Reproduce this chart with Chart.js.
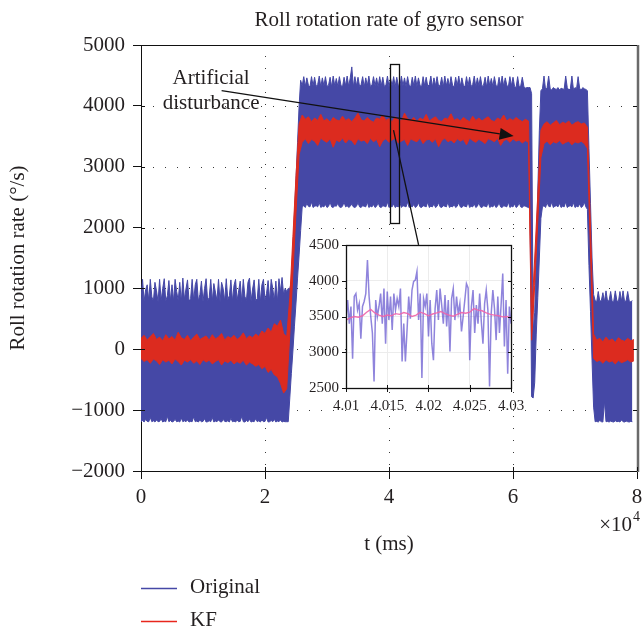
<!DOCTYPE html>
<html><head><meta charset="utf-8">
<script src="https://cdn.jsdelivr.net/npm/chart.js@4.4.1/dist/chart.umd.min.js"></script>
<style>
html,body{margin:0;padding:0;background:#fff;}
#wrap{position:relative;width:643px;height:630px;overflow:hidden;}
#main{position:absolute;left:0;top:0;}
#inset{position:absolute;left:290px;top:235px;}
</style></head><body>
<div id="wrap"><canvas id="main" width="643" height="630"></canvas><canvas id="inset" width="235" height="185"></canvas></div>
<script>
// ---------------- DATA ----------------
const ORIG_STEP = 250;   // ms between samples of the Original band edges
const KF_STEP = 500;     // ms between samples of the KF band edges

// Original (raw gyro): upper edge of the noise band
const origHigh = [
  // 0 – 23.25k ms
  820, 1150, 790, 980, 1060, 800, 1150, 860, 790, 1100,
  960, 780, 1150, 800, 1000, 1160, 790, 880, 1130, 800,
  1060, 790, 1150, 950, 800, 1100, 780, 1170, 820, 990,
  1140, 790, 830, 1150, 800, 1060, 1150, 790, 900, 1120,
  780, 1000, 1160, 800, 850, 1150, 790, 1080, 940, 800,
  1150, 780, 1100, 1000, 790, 1160, 820, 880, 1140, 790,
  1050, 1150, 800, 960, 1120, 780, 1150, 870, 800, 1100,
  1170, 790, 990, 1140, 800, 830, 1150, 780, 1060, 1150,
  800, 920, 1130, 790, 1150, 1000, 800, 1120, 780, 1160,
  950, 1180, 900, 1000,
  // ramp 23.5k – 25.25k
  950, 1000, 1000, 1100, 1650, 2250, 2800, 3400,
  // plateau 25.5k – 62.5k
  4000, 4420, 4330, 4480, 4320, 4460, 4340, 4310, 4480, 4330,
  4470, 4320, 4350, 4490, 4310, 4460, 4330, 4480, 4320, 4340,
  4470, 4310, 4490, 4330, 4450, 4320, 4480, 4340, 4310, 4470,
  4330, 4490, 4320, 4460, 4640, 4310, 4480, 4330, 4470, 4320,
  4350, 4480, 4310, 4460, 4330, 4490, 4320, 4340, 4480, 4330,
  4460, 4310, 4480, 4330, 4470, 4320, 4340, 4490, 4310, 4450,
  4330, 4480, 4320, 4470, 4340, 4310, 4490, 4330, 4460, 4320,
  4480, 4340, 4310, 4470, 4330, 4490, 4320, 4460, 4340, 4310,
  4480, 4330, 4470, 4320, 4350, 4490, 4310, 4460, 4330, 4480,
  4320, 4340, 4470, 4310, 4490, 4330, 4450, 4320, 4480, 4340,
  4310, 4470, 4330, 4490, 4320, 4460, 4340, 4310, 4480, 4330,
  4470, 4320, 4350, 4490, 4310, 4460, 4330, 4480, 4320, 4340,
  4470, 4310, 4490, 4330, 4450, 4320, 4480, 4340, 4310, 4470,
  4330, 4490, 4320, 4460, 4340, 4310, 4480, 4330, 4470, 4320,
  4300, 4480, 4310, 4330, 4470, 4320, 4290, 4300, 4300,
  // drop and recovery 62.75k – 64.25k
  4300, 4200, 300, 600, 1600, 2600, 3600,
  // second plateau 64.5k – 71.75k
  4250, 4280, 4490, 4270, 4300, 4490, 4280, 4260, 4300, 4280,
  4270, 4300, 4260, 4290, 4280, 4270, 4490, 4300, 4260, 4280,
  4490, 4270, 4300, 4280, 4480, 4290, 4260, 4300, 4280, 4270,
  // fall 72k – 72.75k
  4250, 3300, 2400, 1500,
  // tail 73k – 79.25k
  900, 800, 780, 950, 790, 800, 930, 780, 960, 790,
  800, 950, 780, 790, 960, 800, 780, 950, 790, 960,
  780, 800, 950, 790, 780, 800
];
// Original: lower edge of the noise band
const origLow = [
  -1190, -1170, -1195, -1150, -1185, -1190, -1120, -1190, -1175, -1195,
  -1160, -1190, -1185, -1140, -1195, -1180, -1190, -1100, -1190, -1170,
  -1195, -1185, -1150, -1190, -1180, -1195, -1130, -1190, -1175, -1190,
  -1160, -1195, -1185, -1190, -1110, -1190, -1180, -1195, -1165, -1190,
  -1185, -1140, -1195, -1190, -1175, -1190, -1120, -1195, -1180, -1190,
  -1160, -1190, -1195, -1150, -1185, -1190, -1175, -1195, -1130, -1190,
  -1180, -1195, -1165, -1190, -1185, -1100, -1190, -1195, -1170, -1190,
  -1150, -1195, -1185, -1190, -1140, -1190, -1175, -1195, -1160, -1190,
  -1185, -1120, -1195, -1190, -1170, -1190, -1150, -1195, -1180, -1190,
  -1160, -1195, -1185, -1190,
  -1190, -1190, -800, -400, -30, 380, 760, 1170,
  1550, 1950, 2340, 2360, 2330, 2400, 2350, 2340, 2420, 2330,
  2350, 2360, 2340, 2410, 2330, 2350, 2340, 2380, 2330, 2350,
  2420, 2340, 2330, 2360, 2350, 2400, 2340, 2330, 2350, 2420,
  2340, 2360, 2330, 2350, 2390, 2340, 2330, 2350, 2410, 2340,
  2330, 2360, 2350, 2340, 2420, 2330, 2350, 2340, 2380, 2330,
  2350, 2410, 2340, 2330, 2360, 2350, 2340, 2420, 2330, 2350,
  2340, 2390, 2330, 2350, 2340, 2410, 2330, 2360, 2350, 2340,
  2420, 2330, 2350, 2340, 2380, 2330, 2350, 2410, 2340, 2330,
  2360, 2350, 2340, 2420, 2330, 2350, 2340, 2390, 2330, 2350,
  2410, 2340, 2330, 2360, 2350, 2340, 2420, 2330, 2350, 2340,
  2380, 2330, 2350, 2410, 2340, 2330, 2360, 2350, 2340, 2420,
  2330, 2350, 2340, 2390, 2330, 2350, 2410, 2340, 2330, 2360,
  2350, 2340, 2420, 2330, 2350, 2340, 2380, 2330, 2350, 2410,
  2340, 2330, 2360, 2350, 2340, 2420, 2330, 2350, 2340, 2390,
  2330, 2350, 2410, 2340, 2330, 2360, 2350, 2340, 2330,
  2300, -780, -800, -550, 250, 850, 1500,
  2150, 2340, 2360, 2330, 2410, 2350, 2340, 2420, 2330, 2350,
  2360, 2340, 2400, 2330, 2350, 2340, 2420, 2330, 2350, 2360,
  2340, 2410, 2330, 2350, 2340, 2390, 2330, 2350, 2420, 2340,
  2300, 1380, 620, -190,
  -950, -1190, -1185, -1195, -1170, -1190, -1195, -850, -1190, -1185,
  -1195, -1180, -1190, -1195, -1175, -1190, -1185, -1195, -1160, -1190,
  -1195, -1180, -1190, -1195, -1185, -1190
];

// KF (Kalman filtered): upper edge of its band
const kfHigh = [
  180, 230, 150, 210, 260, 160, 200, 140, 240, 170,
  210, 150, 280, 190, 160, 230, 140, 200, 250, 160,
  190, 220, 150, 240, 170, 200, 260, 150, 210, 180,
  230, 160, 200, 270, 170, 220, 190, 250, 210, 300,
  260, 350, 280, 420,
  380, 480, 260, 200, 850, 1850, 2850, 3700,
  3850, 3780, 3820, 3740, 3800, 3760, 3860, 3750, 3790, 3730,
  3810, 3770, 3750, 3830, 3760, 3790, 3740, 3800, 3880, 3770,
  3750, 3810, 3760, 3730, 3800, 3780, 3850, 3760, 3790, 3740,
  3820, 3770, 3750, 3880, 3790, 3760, 3810, 3740, 3800, 3770,
  3860, 3750, 3790, 3820, 3760, 3740, 3800, 3780, 3870, 3760,
  3790, 3750, 3810, 3770, 3740, 3830, 3760, 3800, 3750, 3790,
  3820, 3760, 3740, 3800, 3770, 3850, 3750, 3790, 3760, 3810,
  3770, 3740, 3780, 3750,
  500, 1500, 2550, 3600,
  3700, 3740, 3680, 3720, 3760, 3690, 3730, 3710, 3750, 3680, 3720, 3740, 3700, 3720,
  3650, 2000,
  250, 150, 180, 120, 200, 140, 170, 110, 190, 150, 130, 180, 140, 160
];
// KF: lower edge of its band
const kfLow = [
  -150, -200, -170, -230, -160, -190, -250, -170, -210, -180,
  -240, -160, -200, -260, -180, -210, -170, -230, -190, -250,
  -170, -210, -180, -240, -200, -170, -260, -190, -220, -180,
  -240, -200, -230, -180, -260, -210, -240, -280, -250, -320,
  -280, -380, -330, -420,
  -450, -560, -720, -650, 250, 1250, 2250, 3200,
  3400, 3460, 3380, 3450, 3420, 3350, 3470, 3430, 3400, 3460,
  3320, 3440, 3410, 3470, 3390, 3450, 3430, 3360, 3460, 3420,
  3440, 3380, 3470, 3410, 3450, 3330, 3430, 3460, 3400, 3440,
  3470, 3390, 3420, 3450, 3350, 3460, 3430, 3410, 3470, 3380,
  3440, 3450, 3400, 3460, 3330, 3430, 3470, 3410, 3440, 3390,
  3460, 3420, 3450, 3360, 3470, 3430, 3400, 3450, 3420, 3380,
  3460, 3440, 3410, 3470, 3350, 3430, 3450, 3400, 3460, 3420,
  3440, 3390, 3430, 3400,
  150, 1050, 2100, 3150,
  3380, 3420, 3360, 3410, 3390, 3430, 3370, 3400, 3420, 3360, 3410, 3390, 3420, 3380,
  3300, 1600,
  -150, -200, -180, -230, -170, -210, -190, -240, -180, -220, -200, -170, -210, -190
];

// Inset (zoom on 4.01–4.03 ×10^4 ms)
const INSET_ORIG_STEP = 0.0002;
const INSET_KF_STEP = 0.0005;
const insetStart = 4.01;
const insetOrig = [
  3450, 3730, 3400, 3640, 2910, 3780, 3820, 3590, 3680, 3190,
  3640, 3710, 3820, 4290, 3780, 3500, 3270, 2590, 3730, 3500,
  3640, 3820, 3400, 3890, 3120, 3850, 3450, 3780, 3310, 3820,
  3590, 3750, 3640, 3890, 2870, 3400, 2870, 3310, 3780, 3470,
  3870, 3990, 4010, 4130, 3450, 3820, 2640, 3750, 3640, 3820,
  3220, 3730, 3120, 2890, 3610, 3870, 3450, 3890, 3660, 3400,
  3800, 3360, 3730, 3010, 3750, 3890, 3450, 3780, 3540, 3680,
  3290, 3500, 3730, 3960, 3900, 2890, 3640, 3870, 3270, 3660,
  3400, 3820, 3430, 3120, 3680, 3870, 3590, 2520, 3540, 3870,
  3610, 3170, 3780, 3270, 3660, 4100, 3080, 3730, 2700, 3640,
  3400
];
const insetKF = [
  3450, 3480, 3500, 3490, 3510, 3560, 3600, 3550, 3520, 3500,
  3520, 3510, 3540, 3530, 3555, 3540, 3500, 3520, 3560, 3540,
  3510, 3535, 3550, 3570, 3540, 3520, 3505, 3530, 3555, 3545,
  3560, 3610, 3590, 3580, 3550, 3530, 3520, 3510, 3495, 3500,
  3480
];

// ticks
const xTickValues = [0, 20000, 40000, 60000, 80000];
const xTickLabels = ['0', '2', '4', '6', '8'];
const yTickValues = [-2000, -1000, 0, 1000, 2000, 3000, 4000, 5000];
const yTickLabels = ['\u22122000', '\u22121000', '0', '1000', '2000', '3000', '4000', '5000'];
const insetXTickValues = [4.01, 4.015, 4.02, 4.025, 4.03];
const insetXTickLabels = ['4.01', '4.015', '4.02', '4.025', '4.03'];
const insetYTickValues = [2500, 3000, 3500, 4000, 4500];
const insetYTickLabels = ['2500', '3000', '3500', '4000', '4500'];
const seriesNames = ['Original', 'KF'];

// annotation anchors (data units: ms, °/s)
const noteText = ['Artificial', 'disturbance'];
const notePos = {x: 11300, y: [4458, 4047]};
const arrowFrom = {x: 13000, y: 4250};
const arrowTo = {x: 60100, y: 3505};
const zoomBox = {x0: 40100, x1: 41500, y0: 2080, y1: 4690};
const connFrom = {x: 40730, y: 3600};
const connTo = {x: 44770, y: 1714};

// ---------------- STYLE ----------------
const FONT = "'Liberation Serif', 'DejaVu Serif', serif";
const TXT = '#231f20';
const BLUE = '#4548a6';
const RED = '#dc2b1f';

const pts = (ts, vs) => vs.map((v, i) => ({x: ts[i], y: v}));
const origT = origHigh.map((_, i) => i * ORIG_STEP);
const kfT = kfHigh.map((_, i) => i * KF_STEP);
const insetOrigT = insetOrig.map((_, i) => insetStart + i * INSET_ORIG_STEP);
const insetKfT = insetKF.map((_, i) => insetStart + i * INSET_KF_STEP);

function seg(ctx, x1, y1, x2, y2) { ctx.beginPath(); ctx.moveTo(x1, y1); ctx.lineTo(x2, y2); ctx.stroke(); }
const noPadX = s => { s.paddingLeft = 0; s.paddingRight = 0; };
const noPadY = s => { s.paddingTop = 0; s.paddingBottom = 0; };

const mainDecor = {
  id: 'mainDecor',
  beforeDatasetsDraw(chart) {
    const {ctx, chartArea: a, scales: {x, y}} = chart;
    ctx.save();
    ctx.strokeStyle = '#3a3a3a'; ctx.lineWidth = 1; ctx.setLineDash([1, 11]);
    yTickValues.slice(1, -1).forEach(v => { const py = Math.round(y.getPixelForValue(v)) + 0.5; seg(ctx, a.left + 12, py, a.right, py); });
    xTickValues.slice(1, -1).forEach(v => { const px = Math.round(x.getPixelForValue(v)) + 0.5; seg(ctx, px, a.bottom - 6, px, a.top); });
    ctx.restore();
  },
  afterDatasetsDraw(chart) {
    const {ctx, chartArea: a, scales: {x, y}} = chart;
    ctx.save();
    ctx.strokeStyle = '#111'; ctx.lineWidth = 1;
    seg(ctx, a.left, a.top + 0.5, a.right + 2, a.top + 0.5);
    ctx.strokeStyle = '#6a6a6a'; ctx.lineWidth = 2.5;
    seg(ctx, a.right + 1, a.top, a.right + 1, a.bottom + 1);
    ctx.strokeStyle = '#111'; ctx.lineWidth = 1;
    yTickValues.forEach(v => { const py = Math.round(y.getPixelForValue(v)) + 0.5; seg(ctx, a.left, py, a.left + 4, py); seg(ctx, a.right - 4, py, a.right, py); });
    xTickValues.forEach(v => { const px = Math.round(x.getPixelForValue(v)) + 0.5; seg(ctx, px, a.bottom, px, a.bottom - 4); });
    // annotations
    ctx.strokeStyle = '#111'; ctx.fillStyle = '#111'; ctx.lineWidth = 1.4;
    const x1 = x.getPixelForValue(arrowFrom.x), y1 = y.getPixelForValue(arrowFrom.y);
    const x2 = x.getPixelForValue(arrowTo.x), y2 = y.getPixelForValue(arrowTo.y);
    const ang = Math.atan2(y2 - y1, x2 - x1), head = 14, hw = 6;
    const bx = x2 - head * Math.cos(ang), by = y2 - head * Math.sin(ang);
    seg(ctx, x1, y1, bx, by);
    ctx.beginPath(); ctx.moveTo(x2, y2);
    ctx.lineTo(bx + hw * Math.sin(ang), by - hw * Math.cos(ang));
    ctx.lineTo(bx - hw * Math.sin(ang), by + hw * Math.cos(ang));
    ctx.closePath(); ctx.fill();
    const rx0 = x.getPixelForValue(zoomBox.x0), rx1 = x.getPixelForValue(zoomBox.x1);
    const ry0 = y.getPixelForValue(zoomBox.y1), ry1 = y.getPixelForValue(zoomBox.y0);
    ctx.lineWidth = 1.3;
    ctx.strokeRect(Math.round(rx0) + 0.5, Math.round(ry0) + 0.5, Math.round(rx1 - rx0), Math.round(ry1 - ry0));
    seg(ctx, x.getPixelForValue(connFrom.x), y.getPixelForValue(connFrom.y), x.getPixelForValue(connTo.x), y.getPixelForValue(connTo.y));
    ctx.fillStyle = TXT; ctx.font = '21px ' + FONT; ctx.textAlign = 'center'; ctx.textBaseline = 'middle';
    noteText.forEach((t, i) => ctx.fillText(t, x.getPixelForValue(notePos.x), y.getPixelForValue(notePos.y[i])));
    ctx.restore();
  },
  afterDraw(chart) {
    const {ctx, chartArea: a} = chart;
    ctx.save();
    ctx.fillStyle = TXT; ctx.textBaseline = 'middle';
    ctx.font = '21px ' + FONT; ctx.textAlign = 'center';
    ctx.fillText('Roll rotation rate of gyro sensor', (a.left + a.right) / 2, 20);
    ctx.fillText('t (ms)', (a.left + a.right) / 2, 544);
    ctx.textAlign = 'right';
    ctx.fillText('\u00d710', 632, 525);
    ctx.font = '14px ' + FONT; ctx.textAlign = 'left';
    ctx.fillText('4', 633, 517);
    ctx.save();
    ctx.translate(18, (a.top + a.bottom) / 2); ctx.rotate(-Math.PI / 2);
    ctx.font = '21px ' + FONT; ctx.textAlign = 'center';
    ctx.fillText('Roll rotation rate (\u00b0/s)', 0, 0);
    ctx.restore();
    const cols = [BLUE, '#e8261c'], ys = [588, 621];
    seriesNames.forEach((n, i) => {
      ctx.strokeStyle = cols[i]; ctx.lineWidth = 1.5;
      seg(ctx, 141, ys[i] + 0.5, 177, ys[i] + 0.5);
      ctx.font = '21px ' + FONT; ctx.textAlign = 'left'; ctx.fillStyle = TXT;
      ctx.fillText(n, 190, ys[i] - 1);
    });
    ctx.restore();
  }
};

const lineDs = (label, data, color, fill) => ({label, data, borderColor: color, backgroundColor: color, borderWidth: 1, pointRadius: 0, fill, tension: 0});

new Chart(document.getElementById('main'), {
  type: 'line',
  data: {datasets: [
    lineDs('KF', pts(kfT, kfHigh), RED, '+1'),
    lineDs('KF low', pts(kfT, kfLow), RED, false),
    lineDs('Original', pts(origT, origHigh), BLUE, '+1'),
    lineDs('Original low', pts(origT, origLow), BLUE, false)
  ]},
  options: {
    responsive: false, animation: false, devicePixelRatio: 1,
    layout: {padding: {top: 45, right: 6, left: 0, bottom: 0}},
    plugins: {legend: {display: false}, tooltip: {enabled: false}},
    scales: {
      x: {type: 'linear', min: 0, max: 80000,
        afterFit: s => { s.height = 159; noPadX(s); },
        afterBuildTicks: s => { s.ticks = xTickValues.map(v => ({value: v})); },
        ticks: {font: {family: FONT, size: 21}, color: TXT, padding: 6, maxRotation: 0, autoSkip: false,
          callback: (v, i) => xTickLabels[i]},
        grid: {drawOnChartArea: false, drawTicks: true, tickLength: 8, color: '#111'},
        border: {display: true, color: '#111', width: 1}},
      y: {type: 'linear', min: -2000, max: 5000,
        afterFit: s => { s.width = 141; noPadY(s); },
        afterBuildTicks: s => { s.ticks = yTickValues.map(v => ({value: v})); },
        ticks: {font: {family: FONT, size: 21}, color: TXT, padding: 8, autoSkip: false,
          callback: (v, i) => yTickLabels[i]},
        grid: {drawOnChartArea: false, drawTicks: true, tickLength: 8, color: '#111'},
        border: {display: true, color: '#111', width: 1}}
    }
  },
  plugins: [mainDecor]
});

const insetDecor = {
  id: 'insetDecor',
  beforeDraw(chart) {
    const {ctx, chartArea: a} = chart;
    ctx.save(); ctx.fillStyle = '#fff'; ctx.fillRect(a.left, a.top, a.right - a.left, a.bottom - a.top); ctx.restore();
  },
  afterDraw(chart) {
    const {ctx, chartArea: a, scales: {x, y}} = chart;
    ctx.save();
    ctx.strokeStyle = '#111'; ctx.lineWidth = 1.3;
    ctx.strokeRect(Math.round(a.left) + 0.5, Math.round(a.top) + 0.5, Math.round(a.right - a.left), Math.round(a.bottom - a.top));
    ctx.lineWidth = 1;
    insetXTickValues.forEach(v => { const px = Math.round(x.getPixelForValue(v)) + 0.5; seg(ctx, px, a.bottom, px, a.bottom + 4); seg(ctx, px, a.bottom, px, a.bottom - 3); });
    insetYTickValues.forEach(v => { const py = Math.round(y.getPixelForValue(v)) + 0.5; seg(ctx, a.left, py, a.left - 4, py); seg(ctx, a.right, py, a.right - 3, py); });
    ctx.restore();
  }
};

new Chart(document.getElementById('inset'), {
  type: 'line',
  data: {datasets: [
    {label: 'KF', data: pts(insetKfT, insetKF), borderColor: 'rgba(240,100,170,0.9)', borderWidth: 1.4, pointRadius: 0, fill: false, tension: 0},
    {label: 'Original', data: pts(insetOrigT, insetOrig), borderColor: 'rgba(95,80,205,0.7)', borderWidth: 1.5, pointRadius: 0, fill: false, tension: 0}
  ]},
  options: {
    responsive: false, animation: false, devicePixelRatio: 1,
    layout: {padding: {top: 10, right: 14, left: 0, bottom: 0}},
    plugins: {legend: {display: false}, tooltip: {enabled: false}},
    scales: {
      x: {type: 'linear', min: 4.01, max: 4.03,
        afterFit: s => { s.height = 32; noPadX(s); },
        afterBuildTicks: s => { s.ticks = insetXTickValues.map(v => ({value: v})); },
        ticks: {font: {family: FONT, size: 15}, color: TXT, padding: 9, maxRotation: 0, autoSkip: false,
          callback: (v, i) => insetXTickLabels[i]},
        grid: {drawTicks: false, color: '#ececec'},
        border: {display: false}},
      y: {type: 'linear', min: 2500, max: 4500,
        afterFit: s => { s.width = 56; noPadY(s); },
        afterBuildTicks: s => { s.ticks = insetYTickValues.map(v => ({value: v})); },
        ticks: {font: {family: FONT, size: 15}, color: TXT, padding: 7, autoSkip: false,
          callback: (v, i) => insetYTickLabels[i]},
        grid: {drawTicks: false, color: '#ececec'},
        border: {display: false}}
    }
  },
  plugins: [insetDecor]
});
</script>
</body></html>
